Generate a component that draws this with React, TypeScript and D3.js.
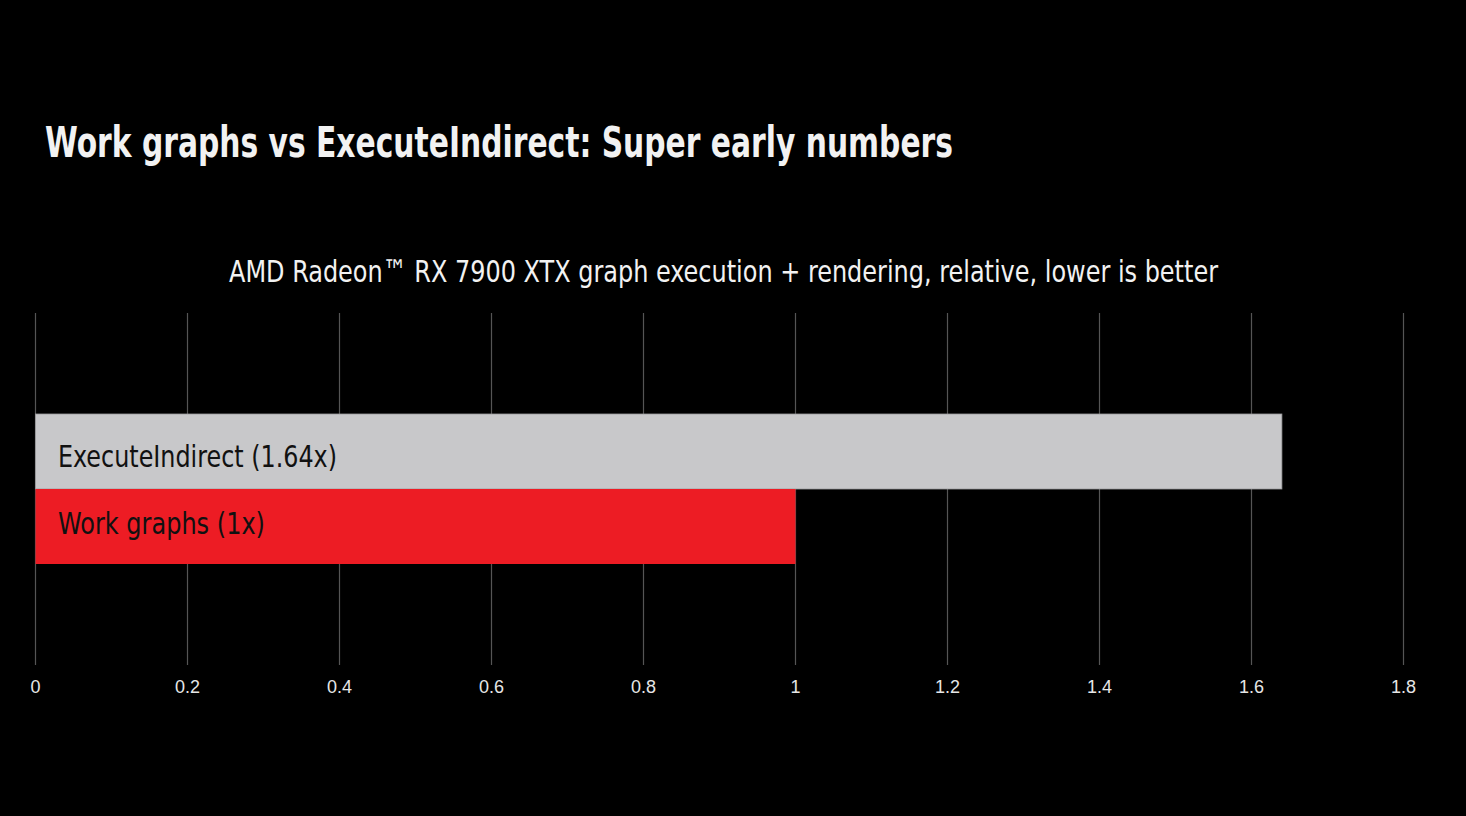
import React, { useEffect } from 'react'
import * as d3 from 'd3'

const title = 'Work graphs vs ExecuteIndirect: Super early numbers'
const subtitle = 'AMD Radeon™ RX 7900 XTX graph execution + rendering, relative, lower is better'

const labels = ['ExecuteIndirect (1.64x)', 'Work graphs (1x)']
const values = [1.64, 1]
const barColors = ['#c8c8ca', '#ed1c24']
const ticks = [0, 0.2, 0.4, 0.6, 0.8, 1, 1.2, 1.4, 1.6, 1.8]

export default function App() {
    useEffect(() => {
        document.body.style.margin = '0'
        document.body.style.background = '#000'
    }, [])

    const width = 1466
    const height = 816
    const margin = { left: 35.5, right: 62.5, top: 313, bottom: 151 }
    const condensed = "'Liberation Sans Narrow', 'DejaVu Sans Condensed', sans-serif"

    const x = d3.scaleLinear()
        .domain([0, 1.8])
        .range([margin.left, width - margin.right])

    const y = d3.scaleBand()
        .domain(labels)
        .range([414, 564])
        .padding(0)

    const fmt = (d) => d3.format('')(d)
    // label baselines sit a bit differently inside each bar in the original
    const labelDy = [15.5, 7]
    const labelLen = [279, 207]

    return (
        <svg width={width} height={height} style={{ display: 'block', background: '#000' }}>
            <rect x={0} y={0} width={width} height={height} fill="#000" />
            <text x={45} y={157} fill="#f2f2f2" fontFamily={condensed}
                fontWeight="bold" fontSize={42} textLength={908} lengthAdjust="spacingAndGlyphs">{title}</text>
            <text x={229} y={282} fill="#f2f2f2" fontFamily={condensed}
                fontSize={31} textLength={989} lengthAdjust="spacingAndGlyphs">{subtitle}</text>

            <g>
                {ticks.map(t => (
                    <line key={t} x1={x(t)} x2={x(t)} y1={margin.top} y2={665} stroke="#555" strokeWidth={1.2} />
                ))}
            </g>

            <g>
                {labels.map((l, i) => (
                    <rect key={l} x={x(0)} y={y(l)} width={x(values[i]) - x(0)} height={y.bandwidth()}
                        fill={barColors[i]} stroke={i === 0 ? '#9a9a9c' : 'none'} strokeWidth={0.8} />
                ))}
                {labels.map((l, i) => (
                    <text key={l + 't'} x={58} y={y(l) + y.bandwidth() / 2 + labelDy[i]} fill="#111"
                        fontFamily={condensed} fontSize={30.5}
                        textLength={labelLen[i]} lengthAdjust="spacingAndGlyphs">{l}</text>
                ))}
            </g>

            <g>
                {ticks.map(t => (
                    <text key={t} x={x(t)} y={693} fill="#e6e6e6" textAnchor="middle"
                        fontFamily="'Liberation Sans', Arial, sans-serif" fontSize={18}>{fmt(t)}</text>
                ))}
            </g>
        </svg>
    )
}
